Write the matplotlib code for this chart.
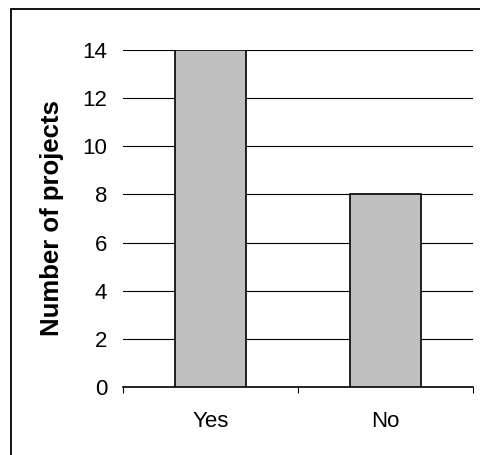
import matplotlib.pyplot as plt
from matplotlib.patches import Rectangle

answers = ["Yes", "No"]
project_counts = [14, 8]
y_ticks = [0, 2, 4, 6, 8, 10, 12, 14]

plt.rcParams["font.family"] = ["Liberation Sans", "DejaVu Sans"]

fig = plt.figure(figsize=(4.8, 4.55), dpi=100)
ax = fig.add_axes([123 / 480, 1 - 387 / 455, 350 / 480, 337 / 455])

x = range(len(answers))
ax.bar(x, project_counts, width=0.41, color="#c0c0c0", edgecolor="black",
       linewidth=1.2, zorder=3)

ax.set_xlim(-0.5, len(answers) - 0.5)
ax.set_ylim(0, 14)
ax.set_yticks(y_ticks)
ax.yaxis.grid(True, color="black", linewidth=0.8, zorder=0)
ax.set_axisbelow(True)

# category labels in the middle, tick marks on the boundaries
ax.set_xticks([i - 0.5 for i in range(len(answers) + 1)])
ax.set_xticklabels([])
ax.set_xticks(list(x), minor=True)
ax.set_xticklabels(answers, minor=True)
ax.tick_params(axis="x", which="major", length=4.5, width=0.8, direction="out")
ax.tick_params(axis="x", which="minor", length=0, pad=17, labelsize=16)
ax.tick_params(axis="y", length=0, pad=11.5, labelsize=16)

for side in ["top", "right", "left"]:
    ax.spines[side].set_visible(False)
ax.spines["bottom"].set_linewidth(1.2)

ax.set_ylabel("Number of projects", fontsize=18.5, fontweight="bold")
ax.yaxis.set_label_coords((64 - 123) / 350, 0.5)

# chart frame, cut off at the right and bottom edges
fig.patches.append(Rectangle((11 / 480, -0.1), 1.2, 1 - 9 / 455 + 0.1,
                             transform=fig.transFigure, fill=False,
                             edgecolor="black", linewidth=1.3))

fig.savefig("out.png", dpi=100)
